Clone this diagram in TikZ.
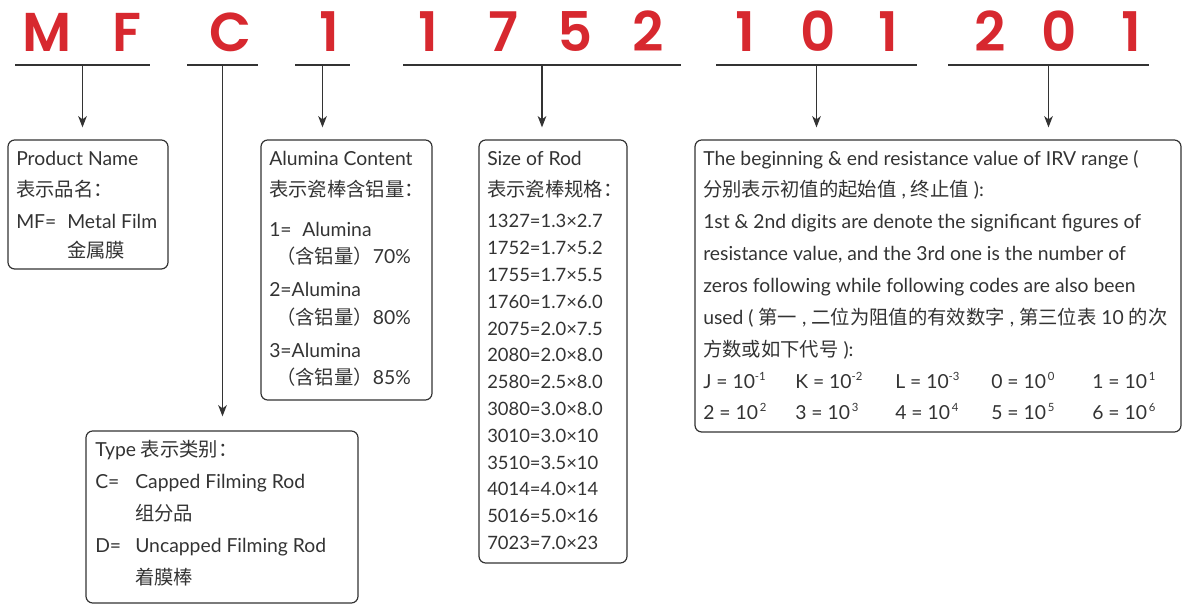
\documentclass[tikz,border=0pt]{standalone}
\usepackage{fontspec}
\setmainfont{Lato}
\newfontfamily\cjk{Noto Sans CJK SC}
\newfontfamily\codefont{Poppins}[BoldFont={* SemiBold}]
\usetikzlibrary{arrows.meta}
\usetikzlibrary{fit}
\definecolor{codered}{HTML}{D7282F}
\definecolor{inkgray}{HTML}{333333}
\newcommand{\sps}[1]{\raisebox{0.85ex}{\fontsize{8.5}{8.5}\selectfont #1}}
\tikzset{
 code/.style={anchor=base, inner sep=0, text=codered, font=\codefont\bfseries\fontsize{41}{41}\selectfont},
 txt/.style={anchor=base west, inner sep=0, text=inkgray, font=\fontsize{14.5}{17}\selectfont},
 box/.style={draw=inkgray, line width=0.9pt, rounded corners=5pt, inner sep=0},
 uline/.style={draw=inkgray, line width=0.9pt},
 link/.style={uline, -{Stealth[length=8.5pt, width=6.5pt, inset=2.5pt]}},
}
\begin{document}
\begin{tikzpicture}[x=0.75pt, y=-0.75pt]
\useasboundingbox (0,0) rectangle (1182,605);
% part number
\foreach \ch/\x [count=\i] in {M/47, F/127, C/230, 1/329, 1/428, 7/503, 5/575, 2/648, 1/745, 0/818, 1/888, 2/990, 0/1059, 1/1131}
 \node[code] (L\i) at (\x,52) {\ch};
\foreach \a/\b/\n in {15/150/pn, 187/258/ty, 295/350/al, 403/681/rd, 716/917/rb, 948/1149/re} {
 \draw[uline] (\a,65) -- (\b,65);
 \coordinate (u\n) at ({(\a+\b)/2},65);
}
% boxes
\node[box, fit={(8,140) (168,269)}] (pname) {};
\node[box, fit={(261,140) (432,400)}] (alum) {};
\node[box, fit={(86,431) (358,603)}] (type) {};
\node[box, fit={(479,140) (627,563)}] (rod) {};
\node[box, fit={(695,140) (1181,432)}] (irv) {};
% arrows
\draw[link, shorten >=9pt] (upn) -- (upn |- pname.north);
\draw[link, shorten >=10.5pt] (uty) -- (uty |- type.north);
\draw[link, shorten >=9pt] (ual) -- (ual |- alum.north);
\draw[link, shorten >=9pt] (urd) -- (urd |- rod.north);
\draw[link, shorten >=9pt] (urb) -- (urb |- irv.north);
\draw[link, shorten >=9pt] (ure) -- (ure |- irv.north);
% product name
\node[txt] (pn1) at (16,166) {Product Name};
\node[txt] (pn2) at (16,197) {\cjk 表示品名：};
\node[txt] (pn3) at (16,229) {MF=};
\node[txt] (pn4) at (67,229) {Metal Film};
\node[txt] (pn5) at (67,258) {\cjk 金属膜};
% alumina
\node[txt] (al1) at (269,166) {Alumina Content};
\node[txt] (al2) at (269,197) {\cjk 表示瓷棒含铝量：};
\node[txt] (al3) at (269,237) {1=};
\node[txt] (al4) at (302,237) {Alumina};
\node[txt] (al5) at (276,264) {{\cjk （含铝量）}70\%};
\node[txt] (al6) at (269,297) {2=Alumina};
\node[txt] (al7) at (276,325) {{\cjk （含铝量）}80\%};
\node[txt] (al8) at (269,358) {3=Alumina};
\node[txt] (al9) at (276,385) {{\cjk （含铝量）}85\%};
% type
\node[txt] (ty1) at (95,457) {Type {\cjk 表示类别：}};
\node[txt] (ty2) at (95,489) {C=};
\node[txt] (ty3) at (135,489) {Capped Filming Rod};
\node[txt] (ty4) at (135,521) {\cjk 组分品};
\node[txt] (ty5) at (95,553) {D=};
\node[txt] (ty6) at (135,553) {Uncapped Filming Rod};
\node[txt] (ty7) at (135,585) {\cjk 着膜棒};
% size of rod
\node[txt] (rd1) at (487,166) {Size of Rod};
\node[txt] (rd2) at (487,197) {\cjk 表示瓷棒规格：};
\foreach \t [count=\i from 0] in {1327=1.3×2.7, 1752=1.7×5.2, 1755=1.7×5.5, 1760=1.7×6.0, 2075=2.0×7.5, 2080=2.0×8.0, 2580=2.5×8.0, 3080=3.0×8.0, 3010=3.0×10, 3510=3.5×10, 4014=4.0×14, 5016=5.0×16, 7023=7.0×23}
 \node[txt, font=\fontsize{13.8}{16}\selectfont] (rod\i) at (487,{228+26.8*\i}) {\t};
% resistance range
\node[txt] (rb1) at (703,166) {The beginning \& end resistance value of IRV range (};
\node[txt] (rb2) at (703,197) {{\cjk 分别表示初值的起始值} , {\cjk 终止值} ):};
\node[txt] (rb3) at (703,229) {1st \& 2nd digits are denote the significant figures of};
\node[txt] (rb4) at (703,261) {resistance value, and the 3rd one is the number of};
\node[txt] (rb5) at (703,293) {zeros following while following codes are also been};
\node[txt] (rb6) at (703,325) {used ( {\cjk 第一} , {\cjk 二位为阻值的有效数字} , {\cjk 第三位表} 10 {\cjk 的次}};
\node[txt] (rb7) at (703,357) {{\cjk 方数或如下代号} ):};
\foreach \lab/\ex/\x/\y [count=\i] in {J/-1/703/389, K/-2/795/389, L/-3/895/389, 0/\,0/991/389, 1/\,1/1092/389, 2/\,2/703/420, 3/\,3/795/420, 4/\,4/895/420, 5/\,5/991/420, 6/\,6/1092/420}
 \node[txt] (ex\i) at (\x,\y) {{\lab} = 10\sps{\ex}};
\end{tikzpicture}
\end{document}
